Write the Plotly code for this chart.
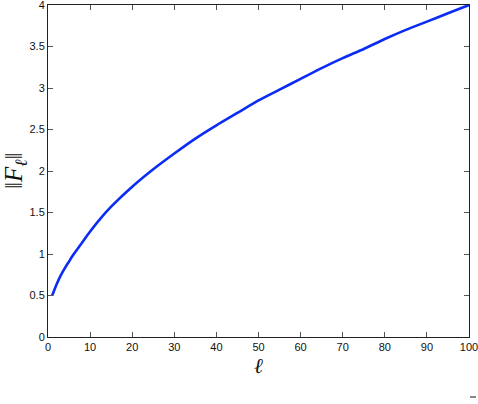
import plotly.graph_objects as go

# values
ell = [1, 2, 3, 4, 5, 6, 7, 8, 10, 12, 15, 20, 25, 30, 35, 40, 45, 50, 55,
       60, 65, 70, 75, 80, 85, 90, 95, 100]
norm_F = [0.50, 0.63, 0.74, 0.83, 0.91, 0.99, 1.06, 1.13, 1.27, 1.40, 1.57,
          1.81, 2.02, 2.21, 2.39, 2.55, 2.70, 2.85, 2.98, 3.11, 3.24, 3.36,
          3.47, 3.59, 3.70, 3.80, 3.90, 4.00]
x_ticks = [0, 10, 20, 30, 40, 50, 60, 70, 80, 90, 100]
y_ticks = [0, 0.5, 1, 1.5, 2, 2.5, 3, 3.5, 4]
y_tick_text = ["0", "0.5", "1", "1.5", "2", "2.5", "3", "3.5", "4"]

W, H = 478, 404
ML, MR, MT, MB = 48, 9, 5, 67
PW, PH = W - ML - MR, H - MT - MB

fig = go.Figure()
fig.add_trace(go.Scatter(x=ell, y=norm_F, mode="lines",
                         line=dict(color="#0a2cf5", width=2.6, shape="spline",
                                   smoothing=0.6),
                         showlegend=False, hoverinfo="skip"))

axis_common = dict(showgrid=False, zeroline=False, showline=True,
                   linecolor="#222222", linewidth=1, mirror="ticks",
                   ticks="inside", ticklen=5, tickcolor="#555555",
                   automargin=False, ticklabeloverflow="allow",
                   tickfont=dict(family="Liberation Sans, Arial, sans-serif",
                                 size=11, color="#111111"))

fig.update_xaxes(range=[0, 100], tickvals=x_ticks, **axis_common)
fig.update_yaxes(range=[0, 4], tickvals=y_ticks, ticktext=y_tick_text,
                 **axis_common)

fig.update_layout(
    width=W, height=H,
    margin=dict(l=ML, r=MR, t=MT, b=MB, pad=0, autoexpand=False),
    paper_bgcolor="white", plot_bgcolor="white",
    annotations=[
        dict(text="‖<i>F</i><sub><i>ℓ</i></sub>‖", xref="paper", yref="paper",
             x=(15 - ML) / PW, y=0.5,
             xanchor="center", yanchor="middle", textangle=-90,
             showarrow=False,
             font=dict(family="Liberation Serif, DejaVu Serif, serif",
                       size=25, color="#111111")),
        dict(text="<i>ℓ</i>", xref="paper", yref="paper",
             x=0.5, y=-(366 - (H - MB)) / PH,
             xanchor="center", yanchor="middle", showarrow=False,
             font=dict(family="Liberation Serif, DejaVu Serif, serif",
                       size=21, color="#111111")),
    ],
    shapes=[
        dict(type="line", xref="paper", yref="paper",
             x0=(470 - ML) / PW, x1=(476 - ML) / PW,
             y0=-(397 - (H - MB)) / PH,
             y1=-(397 - (H - MB)) / PH,
             line=dict(color="#111111", width=1)),
    ],
)

fig.write_html(
    "out.html",
    config={"displayModeBar": False},
    post_script="document.body.style.margin='0';document.body.style.padding='0';"
                "document.documentElement.style.overflow='hidden';",
)
